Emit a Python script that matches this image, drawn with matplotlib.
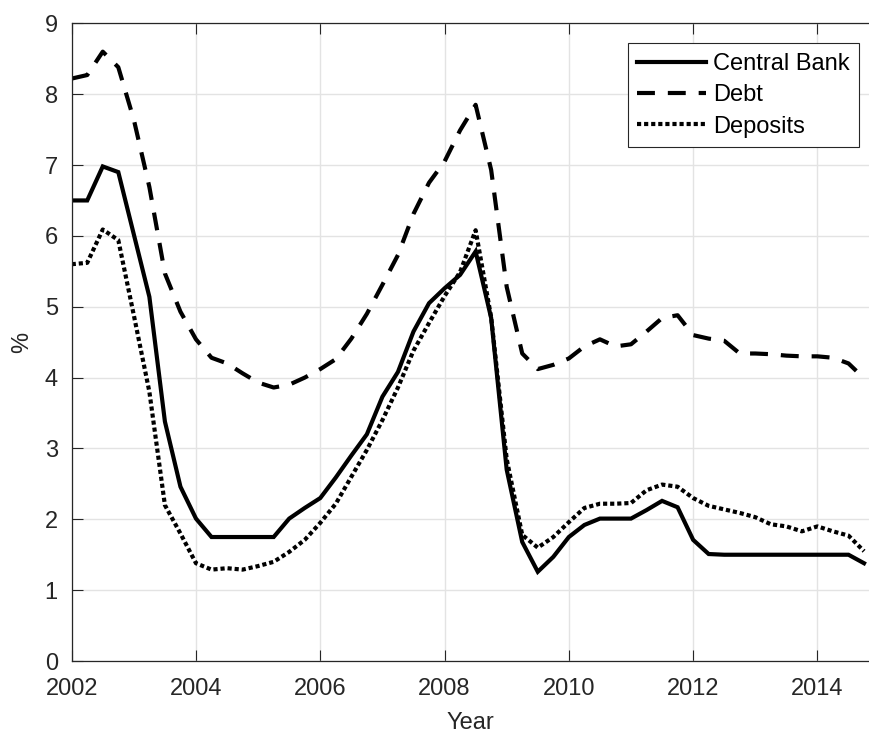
import numpy as np
import matplotlib
matplotlib.use("Agg")
import matplotlib.pyplot as plt

# --- DATA (quarterly) ---
years = np.arange(2002, 2015)          # 2002 .. 2014
quarters_per_year = 4

central_bank = [6.50, 6.50, 6.98, 6.90,
                6.02, 5.14, 3.38, 2.46,
                2.01, 1.75, 1.75, 1.75,
                1.75, 1.75, 2.01, 2.16,
                2.30, 2.59, 2.90, 3.20,
                3.73, 4.08, 4.65, 5.05,
                5.26, 5.45, 5.78, 4.84,
                2.70, 1.68, 1.26, 1.47,
                1.75, 1.92, 2.01, 2.01,
                2.01, 2.13, 2.26, 2.17,
                1.71, 1.51, 1.50, 1.50,
                1.50, 1.50, 1.50, 1.50,
                1.50, 1.50, 1.50, 1.38]

debt = [8.22, 8.27, 8.60, 8.38,
        7.64, 6.69, 5.47, 4.93,
        4.54, 4.28, 4.20, 4.06,
        3.93, 3.86, 3.90, 4.00,
        4.12, 4.26, 4.55, 4.90,
        5.31, 5.73, 6.31, 6.75,
        7.05, 7.49, 7.85, 6.93,
        5.28, 4.34, 4.12, 4.18,
        4.27, 4.44, 4.54, 4.44,
        4.47, 4.65, 4.84, 4.88,
        4.60, 4.55, 4.52, 4.34,
        4.34, 4.33, 4.31, 4.30,
        4.30, 4.28, 4.20, 3.99]

deposits = [5.60, 5.62, 6.09, 5.94,
            4.88, 3.80, 2.20, 1.80,
            1.38, 1.29, 1.31, 1.29,
            1.34, 1.40, 1.54, 1.71,
            1.95, 2.22, 2.60, 2.98,
            3.40, 3.86, 4.38, 4.77,
            5.15, 5.49, 6.08, 4.85,
            2.85, 1.78, 1.60, 1.75,
            1.96, 2.16, 2.22, 2.22,
            2.23, 2.41, 2.49, 2.46,
            2.30, 2.19, 2.14, 2.09,
            2.03, 1.93, 1.90, 1.83,
            1.90, 1.83, 1.77, 1.55]

labels = ["Central Bank", "Debt", "Deposits"]

t = years[0] + np.arange(len(central_bank)) / quarters_per_year

# --- STYLE ---
plt.rcParams['font.family'] = ['Liberation Sans', 'DejaVu Sans']
txt = '#262626'
fs = 17

fig = plt.figure(figsize=(8.69, 7.33), dpi=100)
ax = fig.add_axes([0.0825, 0.0982, 0.9175, 0.8700])

lw = 3.0
ax.plot(t, central_bank, color='k', lw=lw, solid_joinstyle='miter', label=labels[0])
ax.plot(t, debt, color='k', lw=lw, dashes=(4.3, 3.1), label=labels[1])
ax.plot(t, deposits, color='k', lw=lw, dashes=(1.0, 0.7), label=labels[2])

ax.set_xlim(2002, 2014.83)
ax.set_ylim(0, 9)
ax.set_xticks(np.arange(2002, 2015, 2))
ax.set_yticks(np.arange(0, 10, 1))

ax.grid(True, color='#e3e3e3', lw=1.0)
ax.set_axisbelow(True)

ax.tick_params(direction='in', length=8, width=0.8, colors=txt, labelsize=fs,
               top=True)
ax.tick_params(axis='x', pad=12)
ax.tick_params(axis='y', pad=10)
for side in ['left', 'bottom', 'top']:
    ax.spines[side].set_color(txt)
    ax.spines[side].set_linewidth(0.9)
ax.spines['right'].set_visible(False)

ax.set_xlabel('Year', fontsize=fs, color=txt, labelpad=9)
ax.set_ylabel('%', fontsize=fs, color=txt, labelpad=8)

leg = ax.legend(loc='upper right', bbox_to_anchor=(0.9871, 0.9686), borderaxespad=0,
                fontsize=fs, handlelength=2.9, handletextpad=0.3, labelspacing=0.4,
                borderpad=0.4, fancybox=False, framealpha=1, edgecolor=txt)
leg.get_frame().set_linewidth(0.8)

fig.savefig('out.png', dpi=100)
